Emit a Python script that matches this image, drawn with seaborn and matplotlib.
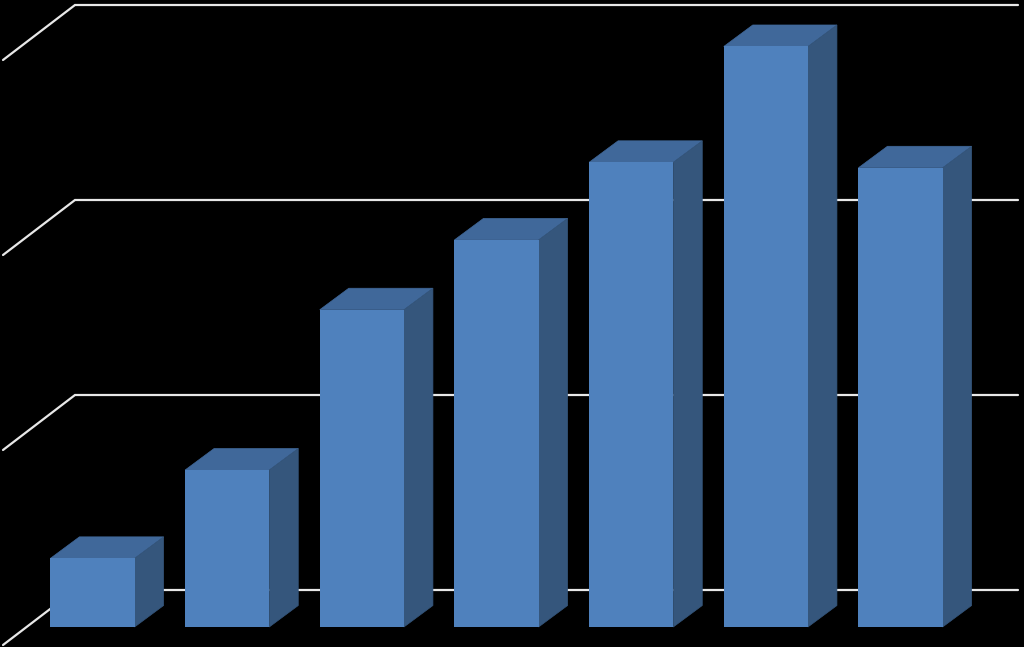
import matplotlib

matplotlib.use("Agg")
import matplotlib.pyplot as plt
import numpy as np
import pandas as pd
import seaborn as sns
from matplotlib.patches import Polygon

# values, one gridline step = 1
categories = ["A", "B", "C", "D", "E", "F", "G"]
values = [0.352, 0.805, 1.627, 1.985, 2.383, 2.977, 2.355]
grid_levels = [0, 1, 2, 3]

FRONT = "#4F81BD"
TOP = "#40689A"
SIDE = "#35567C"
GRID = "#E8E8E8"

# projection of the fake 3d box, in data units
STEP_X = 134.67
STEP_Y = 195.0
BAR_DEPTH = (29 / STEP_X, 21.5 / STEP_Y)
WALL_OFFSET = 37 / STEP_Y
FLOOR_DX = 72 / STEP_X
FLOOR_DY = 55 / STEP_Y
WALL_LEFT = (75 - 92.5) / STEP_X
WALL_RIGHT = (1018 - 92.5) / STEP_X

sns.set_theme(style="white", rc={"figure.facecolor": "black", "axes.facecolor": "black"})

df = pd.DataFrame({"category": categories, "value": values})

fig = plt.figure(figsize=(10.24, 6.47), dpi=100)
ax = fig.add_axes([0, 0, 1, 1])

# wall gridlines with their diagonal on the left side
for level in grid_levels:
    y = level + WALL_OFFSET
    ax.plot(
        [WALL_LEFT - FLOOR_DX, WALL_LEFT, WALL_RIGHT],
        [y - FLOOR_DY, y, y],
        color=GRID,
        lw=1.6,
        solid_joinstyle="miter",
        zorder=1,
    )

sns.barplot(data=df, x="category", y="value", color=FRONT, saturation=1, width=0.625, ax=ax, zorder=3)

dx, dy = BAR_DEPTH
for bar in ax.patches:
    bar.set_edgecolor("none")
    x0, x1 = bar.get_x(), bar.get_x() + bar.get_width()
    h = bar.get_height()
    # same colour edge closes the dark seam between the faces
    ax.add_patch(Polygon([(x0, h), (x1, h), (x1 + dx, h + dy), (x0 + dx, h + dy)], fc=TOP, ec=TOP, lw=0.5, zorder=2))
    ax.add_patch(Polygon([(x1, 0), (x1 + dx, dy), (x1 + dx, h + dy), (x1, h)], fc=SIDE, ec=SIDE, lw=0.5, zorder=2))

ax.set_xlim(-92.5 / STEP_X, (1024 - 92.5) / STEP_X)
ax.set_ylim(-20 / STEP_Y, 627 / STEP_Y)
ax.set_xticks([])
ax.set_yticks([])
ax.set_xlabel("")
ax.set_ylabel("")
sns.despine(ax=ax, left=True, bottom=True)

fig.savefig("out.png", dpi=100, facecolor="black")
